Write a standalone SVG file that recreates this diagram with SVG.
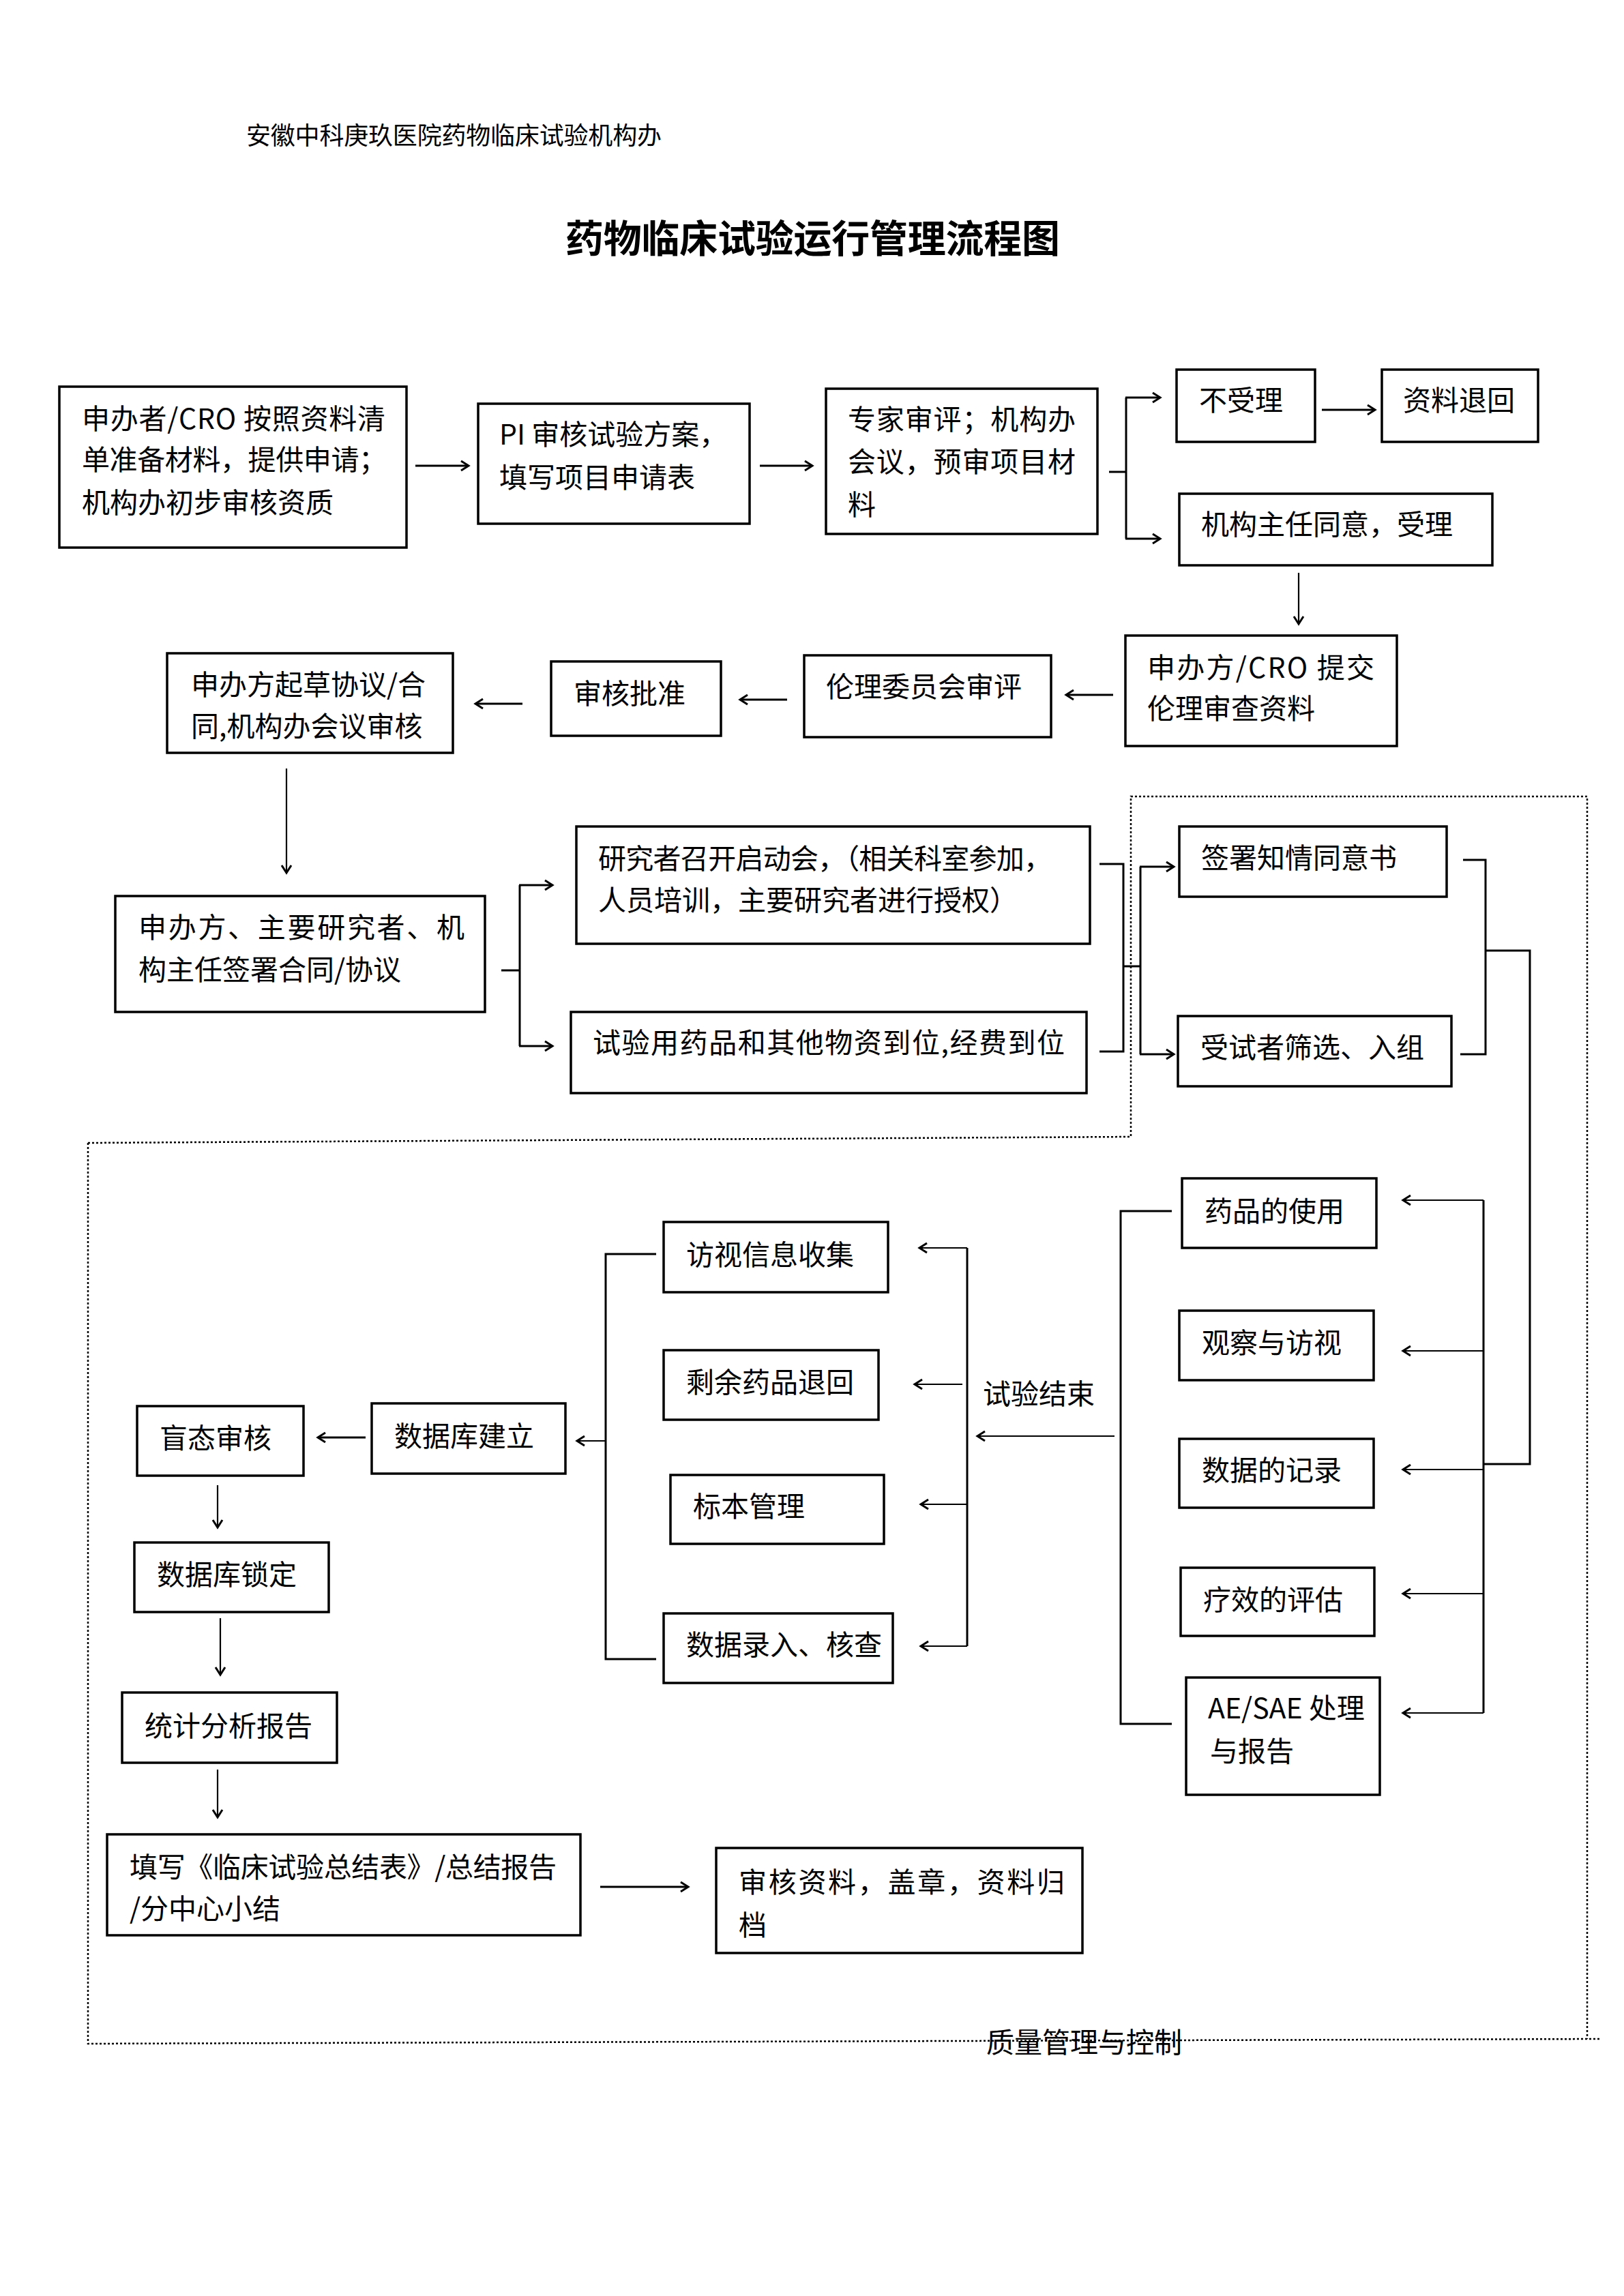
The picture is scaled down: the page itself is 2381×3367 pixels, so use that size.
<svg xmlns="http://www.w3.org/2000/svg" width="2381" height="3367" viewBox="0 0 2381 3367">
<style>
.bg{fill:#fff}
.box{fill:#fff;stroke:#000;stroke-width:3.5}
.t{font-family:"Noto Sans CJK SC","Noto Sans",sans-serif;font-size:41px;fill:#000}
.h{font-family:"Noto Sans CJK SC",sans-serif;font-size:36px;fill:#000}
.title{font-family:"Noto Sans CJK SC",sans-serif;font-size:56px;font-weight:bold;fill:#000}
.ln{stroke:#000;stroke-width:3;fill:none}
.thin{stroke:#000;stroke-width:2.2;fill:none}
.arr{marker-end:url(#ah)}
.dot{stroke:#000;stroke-width:2.5;stroke-dasharray:3 3;fill:none}
</style>
<defs>
<marker id="ah" markerUnits="userSpaceOnUse" markerWidth="20" markerHeight="20" viewBox="0 0 20 20" refX="17" refY="10" orient="auto">
<path d="M6,3 L17,10 L6,17" fill="none" stroke="#000" stroke-width="3"/>
</marker>
</defs>
<rect class="bg" x="0" y="0" width="2381" height="3367"/>
<text class="h" x="361" y="212" textLength="609">安徽中科庚玖医院药物临床试验机构办</text>
<text class="title" x="829" y="370" textLength="725">药物临床试验运行管理流程图</text>

<g id="quality-region">
<path class="dot" d="M129,1676 L1658,1667 L1658,1168 L2327,1168 L2327,2990"/>
<path class="dot" d="M129,1676 L129,2997 L2347,2990"/>
<text class="t" x="1446" y="3010">质量管理与控制</text>
</g>

<g id="connectors">
<line class="ln arr" x1="609" y1="683" x2="687" y2="683"/>
<line class="ln arr" x1="1114" y1="683" x2="1191" y2="683"/>
<line class="ln" x1="1626" y1="692" x2="1651" y2="692"/>
<line class="ln" x1="1651" y1="583" x2="1651" y2="790"/>
<line class="ln arr" x1="1650" y1="583" x2="1701" y2="583"/>
<line class="ln arr" x1="1650" y1="790" x2="1701" y2="790"/>
<line class="ln arr" x1="1938" y1="601" x2="2016" y2="601"/>
<line class="thin arr" x1="1904" y1="840" x2="1904" y2="915"/>
<line class="ln arr" x1="1632" y1="1019" x2="1563" y2="1019"/>
<line class="ln arr" x1="1154" y1="1026" x2="1085" y2="1026"/>
<line class="ln arr" x1="766" y1="1032" x2="697" y2="1032"/>
<line class="thin arr" x1="420" y1="1127" x2="420" y2="1280"/>
<line class="ln" x1="735" y1="1423" x2="762" y2="1423"/>
<line class="ln" x1="762" y1="1298" x2="762" y2="1534"/>
<line class="ln arr" x1="761" y1="1298" x2="810" y2="1298"/>
<line class="ln arr" x1="761" y1="1534" x2="810" y2="1534"/>
<path class="ln" d="M1612,1267 H1647 V1542 H1612"/>
<line class="ln" x1="1647" y1="1417" x2="1672" y2="1417"/>
<line class="ln" x1="1672" y1="1271" x2="1672" y2="1546"/>
<line class="ln arr" x1="1671" y1="1271" x2="1721" y2="1271"/>
<line class="ln arr" x1="1671" y1="1546" x2="1721" y2="1546"/>
<path class="ln" d="M2145,1261 H2178 V1546 H2141"/>
<path class="ln" d="M2178,1394 H2243 V2147 H2175"/>
<line class="ln" x1="2175" y1="1760" x2="2175" y2="2512"/>
<line class="thin arr" x1="2175" y1="1760" x2="2057" y2="1760"/>
<line class="thin arr" x1="2175" y1="1981" x2="2057" y2="1981"/>
<line class="thin arr" x1="2175" y1="2155" x2="2057" y2="2155"/>
<line class="thin arr" x1="2175" y1="2337" x2="2057" y2="2337"/>
<line class="thin arr" x1="2175" y1="2512" x2="2057" y2="2512"/>
<path class="ln" d="M1718,1776 H1643 V2528 H1718"/>
<line class="thin arr" x1="1634" y1="2106" x2="1433" y2="2106"/>
<line class="ln" x1="1418" y1="1830" x2="1418" y2="2414"/>
<line class="thin arr" x1="1418" y1="1830" x2="1348" y2="1830"/>
<line class="thin arr" x1="1411" y1="2030" x2="1341" y2="2030"/>
<line class="thin arr" x1="1418" y1="2206" x2="1350" y2="2206"/>
<line class="thin arr" x1="1418" y1="2414" x2="1350" y2="2414"/>
<path class="ln" d="M962,1839 H888 V2433 H962"/>
<line class="thin arr" x1="888" y1="2113" x2="846" y2="2113"/>
<line class="ln arr" x1="536" y1="2108" x2="466" y2="2108"/>
<line class="thin arr" x1="319" y1="2178" x2="319" y2="2240"/>
<line class="thin arr" x1="323" y1="2373" x2="323" y2="2456"/>
<line class="thin arr" x1="319" y1="2595" x2="319" y2="2665"/>
<line class="ln arr" x1="880" y1="2767" x2="1009" y2="2767"/>
</g>

<g id="n-apply">
<rect class="box" x="87" y="567" width="509" height="236"/>
<text class="t" x="120" y="629" textLength="445">申办者/CRO 按照资料清</text>
<text class="t" x="120" y="689" textLength="447">单准备材料，提供申请；</text>
<text class="t" x="120" y="752">机构办初步审核资质</text>
</g>
<g id="n-pi">
<rect class="box" x="701" y="592" width="398" height="176"/>
<text class="t" x="732" y="652">PI 审核试验方案，</text>
<text class="t" x="732" y="715">填写项目申请表</text>
</g>
<g id="n-expert">
<rect class="box" x="1211" y="570" width="398" height="213"/>
<text class="t" x="1243" y="630" textLength="334">专家审评；机构办</text>
<text class="t" x="1243" y="692" textLength="334">会议，预审项目材</text>
<text class="t" x="1243" y="755">料</text>
</g>
<g id="n-reject">
<rect class="box" x="1725" y="542" width="203" height="106"/>
<text class="t" x="1758" y="602">不受理</text>
</g>
<g id="n-return">
<rect class="box" x="2026" y="542" width="229" height="106"/>
<text class="t" x="2057" y="602">资料退回</text>
</g>
<g id="n-accept">
<rect class="box" x="1729" y="724" width="459" height="105"/>
<text class="t" x="1761" y="784">机构主任同意，受理</text>
</g>
<g id="n-submit">
<rect class="box" x="1650" y="932" width="398" height="162"/>
<text class="t" x="1682" y="994" textLength="333">申办方/CRO 提交</text>
<text class="t" x="1682" y="1054">伦理审查资料</text>
</g>
<g id="n-ethics">
<rect class="box" x="1179" y="961" width="362" height="120"/>
<text class="t" x="1211" y="1022">伦理委员会审评</text>
</g>
<g id="n-approve">
<rect class="box" x="808" y="970" width="249" height="109"/>
<text class="t" x="841" y="1032">审核批准</text>
</g>
<g id="n-draft">
<rect class="box" x="245" y="958" width="419" height="146"/>
<text class="t" x="280" y="1019">申办方起草协议/合</text>
<text class="t" x="280" y="1080">同,机构办会议审核</text>
</g>
<g id="n-sign">
<rect class="box" x="169" y="1314" width="542" height="170"/>
<text class="t" x="203" y="1375" textLength="478">申办方、主要研究者、机</text>
<text class="t" x="203" y="1437">构主任签署合同/协议</text>
</g>
<g id="n-kickoff">
<rect class="box" x="845" y="1212" width="753" height="172"/>
<text class="t" x="877" y="1274" textLength="665">研究者召开启动会，（相关科室参加，</text>
<text class="t" x="877" y="1335">人员培训，主要研究者进行授权）</text>
</g>
<g id="n-supply">
<rect class="box" x="837" y="1484" width="756" height="119"/>
<text class="t" x="869" y="1544" textLength="692">试验用药品和其他物资到位,经费到位</text>
</g>
<g id="n-consent">
<rect class="box" x="1729" y="1212" width="392" height="103"/>
<text class="t" x="1761" y="1273">签署知情同意书</text>
</g>
<g id="n-screen">
<rect class="box" x="1727" y="1490" width="401" height="103"/>
<text class="t" x="1760" y="1551">受试者筛选、入组</text>
</g>
<g id="n-drug-use">
<rect class="box" x="1733" y="1728" width="285" height="102"/>
<text class="t" x="1766" y="1791">药品的使用</text>
</g>
<g id="n-observe">
<rect class="box" x="1729" y="1922" width="285" height="102"/>
<text class="t" x="1762" y="1984">观察与访视</text>
</g>
<g id="n-record">
<rect class="box" x="1729" y="2110" width="285" height="101"/>
<text class="t" x="1762" y="2171">数据的记录</text>
</g>
<g id="n-efficacy">
<rect class="box" x="1731" y="2299" width="284" height="100"/>
<text class="t" x="1764" y="2361">疗效的评估</text>
</g>
<g id="n-ae">
<rect class="box" x="1739" y="2460" width="284" height="172"/>
<text class="t" x="1771" y="2520">AE/SAE 处理</text>
<text class="t" x="1774" y="2583">与报告</text>
</g>
<g id="n-end">
<text class="t" x="1441" y="2059">试验结束</text>
</g>
<g id="n-visit-info">
<rect class="box" x="973" y="1792" width="329" height="103"/>
<text class="t" x="1006" y="1855">访视信息收集</text>
</g>
<g id="n-drug-return">
<rect class="box" x="973" y="1980" width="315" height="102"/>
<text class="t" x="1006" y="2042">剩余药品退回</text>
</g>
<g id="n-sample">
<rect class="box" x="983" y="2163" width="313" height="101"/>
<text class="t" x="1016" y="2224">标本管理</text>
</g>
<g id="n-data-entry">
<rect class="box" x="973" y="2366" width="336" height="102"/>
<text class="t" x="1006" y="2427">数据录入、核查</text>
</g>
<g id="n-db-build">
<rect class="box" x="545" y="2058" width="284" height="103"/>
<text class="t" x="578" y="2121">数据库建立</text>
</g>
<g id="n-blind">
<rect class="box" x="201" y="2062" width="244" height="102"/>
<text class="t" x="234" y="2124">盲态审核</text>
</g>
<g id="n-db-lock">
<rect class="box" x="197" y="2262" width="285" height="102"/>
<text class="t" x="230" y="2324">数据库锁定</text>
</g>
<g id="n-stats">
<rect class="box" x="179" y="2482" width="315" height="103"/>
<text class="t" x="212" y="2546">统计分析报告</text>
</g>
<g id="n-summary">
<rect class="box" x="157" y="2690" width="694" height="148"/>
<text class="t" x="190" y="2753" textLength="626">填写《临床试验总结表》/总结报告</text>
<text class="t" x="190" y="2814">/分中心小结</text>
</g>
<g id="n-archive">
<rect class="box" x="1050" y="2710" width="537" height="154"/>
<text class="t" x="1083" y="2775" textLength="478">审核资料，盖章，资料归</text>
<text class="t" x="1083" y="2838">档</text>
</g>
</svg>
